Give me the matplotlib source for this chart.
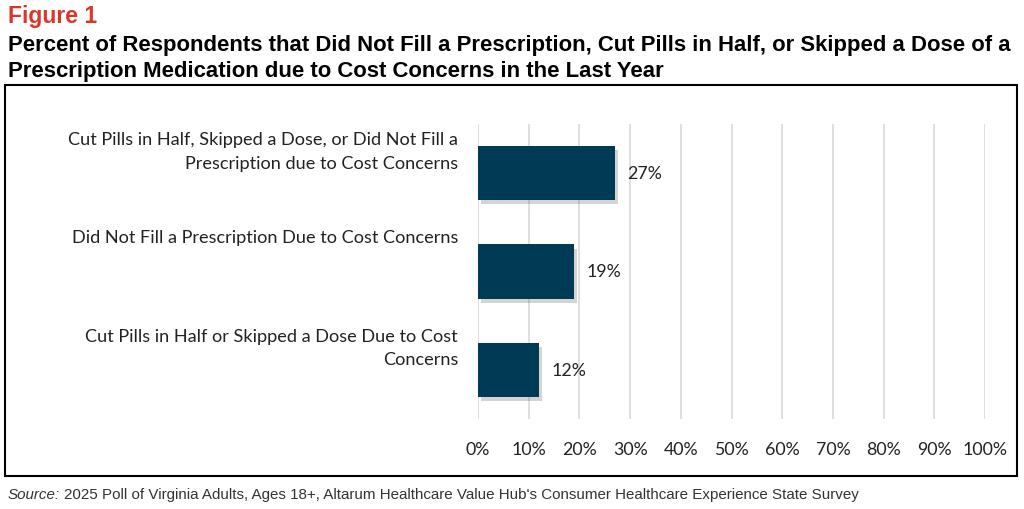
import matplotlib
matplotlib.use("Agg")
import matplotlib.pyplot as plt
import matplotlib.patheffects as pe
from matplotlib.patches import Rectangle
import matplotlib.transforms as mtrans

categories = [
    "Cut Pills in Half, Skipped a Dose, or Did Not Fill a\nPrescription due to Cost Concerns",
    "Did Not Fill a Prescription Due to Cost Concerns",
    "Cut Pills in Half or Skipped a Dose Due to Cost\nConcerns",
]
values = [27, 19, 12]
xticks = list(range(0, 101, 10))
xtick_labels = [f"{t}%" for t in xticks]

bar_color = "#003B55"
label_font = ["Lato", "DejaVu Sans"]
title_font = ["Liberation Sans", "DejaVu Sans"]

fig = plt.figure(figsize=(10.24, 5.10), dpi=100)

# outer box
box = Rectangle((5 / 1024, 1 - 477 / 510), 1012 / 1024, (477 - 86) / 510,
                transform=fig.transFigure, fill=False, edgecolor="black", lw=1.5)
fig.patches.append(box)

ax = fig.add_axes([478 / 1024, 1 - 420 / 510, (985 - 478) / 1024, (420 - 125) / 510])
y = list(range(len(categories)))
bars = ax.barh(y, values, height=0.55, color=bar_color, zorder=3)
for b in bars:
    b.set_path_effects([pe.SimplePatchShadow(offset=(2, -3), alpha=0.25, shadow_rgbFace="#555555"),
                        pe.Normal()])
ax.set_xlim(0, 100)
ax.set_ylim(len(categories) - 0.5, -0.5)
ax.set_xticks(xticks)
ax.set_xticklabels(xtick_labels, fontfamily=label_font, fontsize=12.8, color="#222222")
ax.tick_params(axis="x", length=0, pad=16)
ax.set_yticks([])
ax.grid(axis="x", color="#d9d9d9", lw=1.2, zorder=0)
for s in ax.spines.values():
    s.set_visible(False)

for yi, v in zip(y, values):
    ax.text(v + 2.5, yi, f"{v}%", va="center", ha="left", fontfamily=label_font,
            fontsize=12.8, color="#222222")

trans = mtrans.blended_transform_factory(fig.transFigure, ax.transData)
for yi, c in zip(y, categories):
    ax.text(458 / 1024, yi - 0.43, c, transform=trans, ha="right", va="top",
            multialignment="right", fontfamily=label_font, fontsize=13.1, color="#222222",
            linespacing=1.6)

fig.text(8 / 1024, 1 - 16 / 510, "Figure 1", fontfamily=title_font, fontweight="bold",
         fontsize=16.5, color="#D9372A", va="center", ha="left")
fig.text(8 / 1024, 1 - 58.5 / 510,
         "Percent of Respondents that Did Not Fill a Prescription, Cut Pills in Half, or Skipped a Dose of a\n"
         "Prescription Medication due to Cost Concerns in the Last Year",
         fontfamily=title_font, fontweight="bold", fontsize=15.9, color="black",
         va="center", ha="left", linespacing=1.3)

src1 = fig.text(8 / 1024, 1 - 495 / 510, "Source:", fontfamily=title_font, fontstyle="italic",
                fontsize=10.9, color="#333333", va="center", ha="left")
fig.canvas.draw()
bb = src1.get_window_extent()
fig.text((bb.x1 + 4) / 1024, 1 - 495 / 510,
         "2025 Poll of Virginia Adults, Ages 18+, Altarum Healthcare Value Hub's Consumer Healthcare Experience State Survey",
         fontfamily=title_font, fontsize=10.9, color="#333333", va="center", ha="left")

fig.savefig("out.png", dpi=100)
